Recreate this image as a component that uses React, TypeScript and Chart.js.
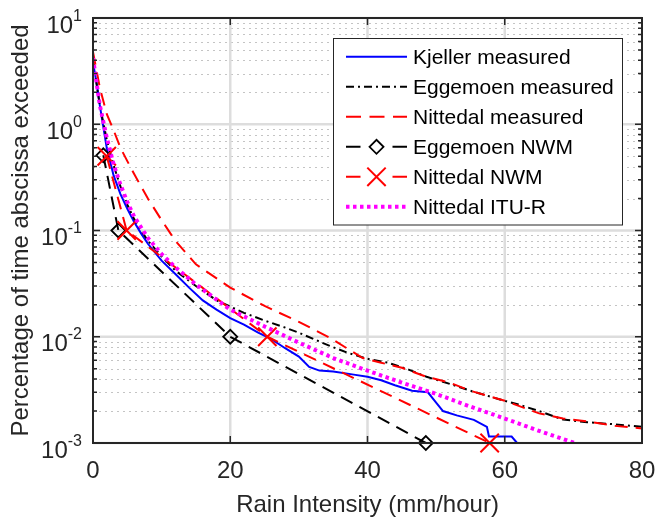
import React, { useEffect, useRef } from "react";
import { Chart, registerables } from "chart.js";
import { drawPoint } from "chart.js/helpers";

Chart.register(...registerables);

const W = 657;
const H = 518;

// ---------- axes / labels ----------
const xTickValues = [0, 20, 40, 60, 80];
const yTickExponents = [-3, -2, -1, 0, 1];
const xAxisTitle = "Rain Intensity (mm/hour)";
const yAxisTitle = "Percentage of time abscissa exceeded";
const seriesNames = [
  "Kjeller measured",
  "Eggemoen measured",
  "Nittedal measured",
  "Eggemoen NWM",
  "Nittedal NWM",
  "Nittedal ITU-R",
];

// ---------- data ----------
const kjellerX = [0, 0.5, 1, 2, 3, 4, 5, 6, 7, 8, 10, 12, 14, 16, 18, 20, 22, 24, 26, 28, 30, 31.5, 33, 35, 38, 40, 42, 44, 46.5, 48.8, 50, 51, 53, 55.5, 57.4, 57.7, 61, 61.8];
const kjellerY = [3.8, 2.5, 1.5, 0.6, 0.33, 0.22, 0.16, 0.12, 0.094, 0.075, 0.052, 0.039, 0.029, 0.022, 0.018, 0.015, 0.013, 0.011, 0.0095, 0.0078, 0.0065, 0.0052, 0.0048, 0.0047, 0.0044, 0.0042, 0.0039, 0.0035, 0.0031, 0.003, 0.0024, 0.002, 0.00182, 0.00165, 0.00142, 0.00115, 0.00115, 0.001];

const eggMeasX = [0, 1, 2, 3, 4, 5, 6, 8, 10, 12, 15, 18, 20, 22, 25, 28, 30, 34.5, 37, 40, 43, 46, 48.6, 52, 55, 59.3, 62, 65, 68.5, 72, 76, 80];
const eggMeasY = [4.0, 1.5, 0.72, 0.41, 0.26, 0.175, 0.128, 0.08, 0.057, 0.042, 0.03, 0.022, 0.0192, 0.0168, 0.0142, 0.0122, 0.0109, 0.0082, 0.0071, 0.0062, 0.0057, 0.0049, 0.0042, 0.0036, 0.0031, 0.00257, 0.0023, 0.002, 0.00166, 0.00157, 0.0015, 0.00142];

const nitMeasX = [0, 1, 2, 3, 4, 5, 6, 7, 8, 10, 12, 15, 20, 25, 30, 34.5, 39.3, 42, 45, 48.6, 52, 55, 60, 65, 68.5, 72, 76, 80];
const nitMeasY = [4.8, 2.2, 1.25, 0.88, 0.6, 0.45, 0.34, 0.26, 0.2, 0.125, 0.08, 0.048, 0.029, 0.0195, 0.0138, 0.0098, 0.0063, 0.0057, 0.0051, 0.0042, 0.0037, 0.0031, 0.0025, 0.0019, 0.0017, 0.0016, 0.00145, 0.00137];

const eggNwmX = [1.5, 3.7, 20, 48.5];
const eggNwmY = [0.51, 0.1, 0.01, 0.001];

const nitNwmX = [2, 4.9, 25.4, 57.8];
const nitNwmY = [0.5, 0.1, 0.01, 0.001];

const ituX = [0, 1, 2, 3, 4, 5, 6, 8, 10, 12, 15, 20, 25, 30, 35, 40, 45, 50, 55, 60, 65, 70.2];
const ituY = [4.2, 1.5, 0.75, 0.42, 0.27, 0.185, 0.135, 0.085, 0.06, 0.045, 0.031, 0.018, 0.0125, 0.0088, 0.0063, 0.0048, 0.0037, 0.0029, 0.0022, 0.0017, 0.0013, 0.001];

const FONT = "'Liberation Sans', Arial, Helvetica, sans-serif";
const AXIS_COLOR = "#262626";

function pts(xs: number[], ys: number[]) {
  return xs.map((x, i) => ({ x, y: ys[i] }));
}

const matlabPlugin: any = {
  id: "matlabAxes",
  beforeDatasetsDraw(chart: any) {
    const { ctx, chartArea: a } = chart;
    const xs = chart.scales.x;
    const ys = chart.scales.y;
    ctx.save();
    // minor dotted horizontal grid
    ctx.strokeStyle = "#c4c4c4";
    ctx.lineWidth = 1;
    ctx.setLineDash([2, 4]);
    const eMin = yTickExponents[0];
    const eMax = yTickExponents[yTickExponents.length - 1];
    for (let e = eMin; e < eMax; e++) {
      for (let m = 2; m <= 9; m++) {
        const py = Math.round(ys.getPixelForValue(m * Math.pow(10, e))) + 0.5;
        ctx.beginPath();
        ctx.moveTo(a.left, py);
        ctx.lineTo(a.right, py);
        ctx.stroke();
      }
    }
    // major grid
    ctx.setLineDash([]);
    ctx.strokeStyle = "#dddddd";
    ctx.lineWidth = 2.5;
    for (const e of yTickExponents) {
      const py = ys.getPixelForValue(Math.pow(10, e));
      ctx.beginPath();
      ctx.moveTo(a.left, py);
      ctx.lineTo(a.right, py);
      ctx.stroke();
    }
    for (const v of xTickValues) {
      const px = xs.getPixelForValue(v);
      if (px <= a.left + 1 || px >= a.right - 1) continue;
      ctx.beginPath();
      ctx.moveTo(px, a.top);
      ctx.lineTo(px, a.bottom);
      ctx.stroke();
    }
    ctx.restore();
  },
  afterDatasetsDraw(chart: any) {
    const { ctx, chartArea: a } = chart;
    const xs = chart.scales.x;
    const ys = chart.scales.y;
    ctx.save();
    // ticks
    ctx.strokeStyle = AXIS_COLOR;
    ctx.lineWidth = 1.5;
    const eMin = yTickExponents[0];
    const eMax = yTickExponents[yTickExponents.length - 1];
    for (let e = eMin; e <= eMax; e++) {
      for (let m = 1; m <= 9; m++) {
        if (e === eMax && m > 1) break;
        const py = ys.getPixelForValue(m * Math.pow(10, e));
        const len = m === 1 ? 7 : 4;
        ctx.beginPath();
        ctx.moveTo(a.left, py);
        ctx.lineTo(a.left + len, py);
        ctx.moveTo(a.right, py);
        ctx.lineTo(a.right - len, py);
        ctx.stroke();
      }
    }
    for (const v of xTickValues) {
      const px = xs.getPixelForValue(v);
      ctx.beginPath();
      ctx.moveTo(px, a.bottom);
      ctx.lineTo(px, a.bottom - 7);
      ctx.moveTo(px, a.top);
      ctx.lineTo(px, a.top + 7);
      ctx.stroke();
    }
    // box
    ctx.lineWidth = 2;
    ctx.strokeRect(a.left, a.top, a.right - a.left, a.bottom - a.top);

    // y tick labels (10^e)
    ctx.fillStyle = AXIS_COLOR;
    ctx.textBaseline = "alphabetic";
    ctx.textAlign = "left";
    for (const e of yTickExponents) {
      const py = ys.getPixelForValue(Math.pow(10, e));
      ctx.font = `24px ${FONT}`;
      const wm = ctx.measureText("10").width;
      ctx.font = `16px ${FONT}`;
      const es = String(e);
      const we = ctx.measureText(es).width;
      const right = a.left - 11;
      const x0 = right - we - wm;
      ctx.font = `24px ${FONT}`;
      ctx.fillText("10", x0, py + 14.5);
      ctx.font = `16px ${FONT}`;
      ctx.fillText(es, x0 + wm, py + 2.5);
    }
    // x tick labels
    ctx.font = `24px ${FONT}`;
    ctx.textAlign = "center";
    for (const v of xTickValues) {
      const px = xs.getPixelForValue(v);
      ctx.fillText(String(v), px, a.bottom + 35);
    }
    // axis titles
    ctx.fillText(xAxisTitle, (a.left + a.right) / 2, a.bottom + 69);
    ctx.save();
    ctx.translate(28, (a.top + a.bottom) / 2);
    ctx.rotate(-Math.PI / 2);
    ctx.fillText(yAxisTitle, 0, 0);
    ctx.restore();

    // legend
    const lx = 333.5, ly = 38.5, lw = 289, lh = 186.5;
    ctx.fillStyle = "#ffffff";
    ctx.fillRect(lx, ly, lw, lh);
    ctx.strokeStyle = AXIS_COLOR;
    ctx.lineWidth = 1;
    ctx.strokeRect(lx, ly, lw, lh);
    chart.data.datasets.forEach((ds: any, i: number) => {
      const cy = ly + 18.3 + 30 * i;
      const x1 = 346, x2 = 407, xm = 376.5;
      ctx.save();
      ctx.strokeStyle = ds.borderColor;
      ctx.lineWidth = ds.borderWidth;
      ctx.lineCap = "butt";
      ctx.setLineDash(ds.legendDash || ds.borderDash || []);
      ctx.beginPath();
      if (ds.pointRadius > 0) {
        ctx.setLineDash([]);
        ctx.moveTo(x1, cy);
        ctx.lineTo(x1 + 14.5, cy);
        ctx.moveTo(x2 - 14.5, cy);
        ctx.lineTo(x2, cy);
      } else {
        ctx.moveTo(x1, cy);
        ctx.lineTo(x2, cy);
      }
      ctx.stroke();
      if (ds.pointRadius > 0) {
        ctx.setLineDash([]);
        ctx.fillStyle = ds.pointBackgroundColor;
        ctx.strokeStyle = ds.pointBorderColor;
        ctx.lineWidth = ds.pointBorderWidth;
        drawPoint(ctx, { pointStyle: ds.pointStyle, radius: ds.pointRadius, borderWidth: ds.pointBorderWidth, rotation: 0 } as any, xm, cy);
      }
      ctx.restore();
      ctx.fillStyle = "#000000";
      ctx.font = `21px ${FONT}`;
      ctx.textAlign = "left";
      ctx.textBaseline = "alphabetic";
      ctx.fillText(ds.label, 413, cy + 7.5);
    });
    ctx.restore();
  },
};

export default function App() {
  const ref = useRef<HTMLCanvasElement | null>(null);
  useEffect(() => {
    if (!ref.current) return;
    const lineBase = { tension: 0, pointRadius: 0, fill: false, pointHoverRadius: 0 };
    const chart = new Chart(ref.current, {
      type: "line",
      data: {
        datasets: [
          { ...lineBase, label: seriesNames[0], data: pts(kjellerX, kjellerY), borderColor: "#0000ff", borderWidth: 2, order: 5 },
          { ...lineBase, label: seriesNames[1], data: pts(eggMeasX, eggMeasY), borderColor: "#000000", borderWidth: 2, borderDash: [8, 4, 2, 4], order: 4 },
          { ...lineBase, label: seriesNames[2], data: pts(nitMeasX, nitMeasY), borderColor: "#ff0000", borderWidth: 2, borderDash: [13, 8], legendDash: [15, 8.5], order: 3 },
          {
            ...lineBase, label: seriesNames[3], data: pts(eggNwmX, eggNwmY), borderColor: "#000000", borderWidth: 2, borderDash: [13, 8],
            pointRadius: 7, pointStyle: "rectRot", pointBackgroundColor: "rgba(0,0,0,0)", pointBorderColor: "#000000", pointBorderWidth: 1.8, clip: false, order: 2,
          },
          {
            ...lineBase, label: seriesNames[4], data: pts(nitNwmX, nitNwmY), borderColor: "#ff0000", borderWidth: 2, borderDash: [13, 8],
            pointRadius: 13, pointStyle: "crossRot", pointBackgroundColor: "rgba(0,0,0,0)", pointBorderColor: "#ff0000", pointBorderWidth: 2, clip: false, order: 1,
          },
          { ...lineBase, label: seriesNames[5], data: pts(ituX, ituY), borderColor: "#ff00ff", borderWidth: 4, borderDash: [3.5, 3.5], order: 0 },
        ] as any,
      },
      options: {
        responsive: false,
        animation: false,
        events: [],
        layout: { padding: { left: 93, right: 15, top: 18, bottom: 75 } },
        plugins: { legend: { display: false }, tooltip: { enabled: false }, title: { display: false } },
        scales: {
          x: { type: "linear", min: 0, max: 80, display: false },
          y: { type: "logarithmic", min: 0.001, max: 10, display: false },
        },
      } as any,
      plugins: [matlabPlugin],
    });
    return () => chart.destroy();
  }, []);
  return (
    <div style={{ position: "fixed", left: 0, top: 0, width: W, height: H, background: "#ffffff" }}>
      <canvas ref={ref} width={W} height={H} style={{ display: "block", width: W, height: H }} />
    </div>
  );
}
